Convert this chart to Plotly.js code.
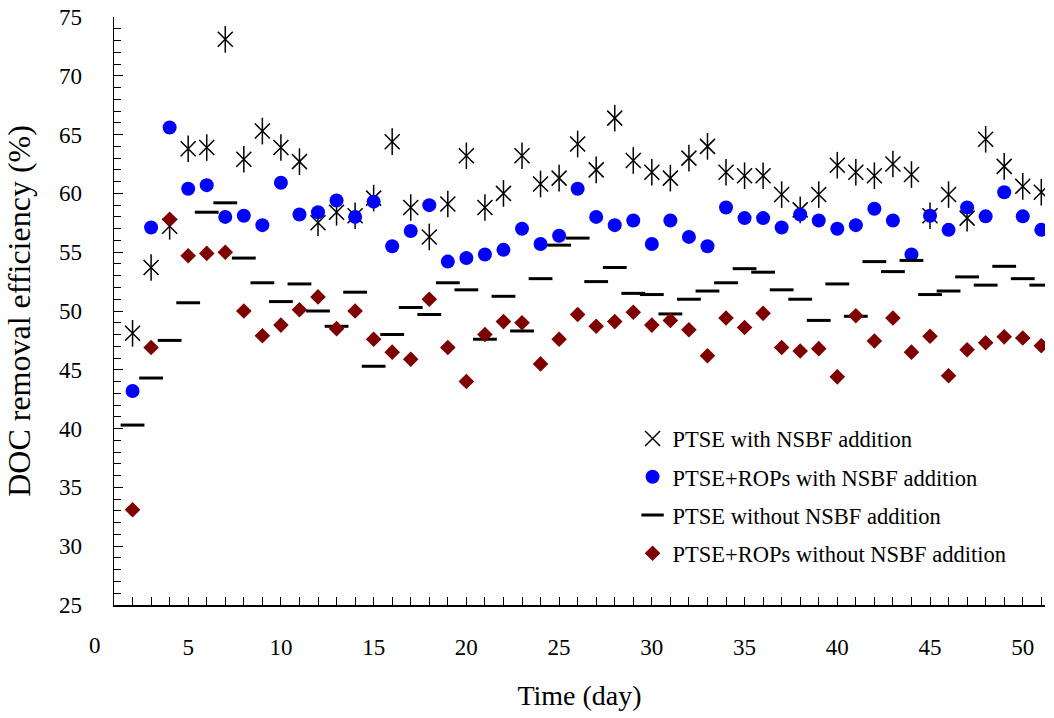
<!DOCTYPE html>
<html>
<head>
<meta charset="utf-8">
<script src="https://cdn.plot.ly/plotly-3.0.1.min.js"></script>
<style>
html, body { margin: 0; padding: 0; background: #fff; }
#chart { width: 1054px; height: 718px; }
</style>
</head>
<body>
<div id="chart"></div>
<script>
const days = [2,3,4,5,6,7,8,9,10,11,12,13,14,15,16,17,18,19,20,21,22,23,24,25,26,27,28,29,30,31,32,33,34,35,36,37,38,39,40,41,42,43,44,45,46,47,48,49,50,51];

const ptseWith = [48.1,53.7,57.2,63.8,63.9,73.1,62.9,65.3,63.9,62.7,
  57.5,58.4,58.1,59.6,64.4,58.8,56.3,59.1,63.2,58.8,
  60.0,63.2,60.8,61.3,64.2,62.0,66.4,62.8,61.8,61.3,
  63.0,64.0,61.8,61.5,61.5,59.9,58.6,59.9,62.4,61.8,
  61.5,62.5,61.6,58.1,59.9,57.9,64.6,62.3,60.6,60.1];

const ropsWith = [43.2,57.1,65.6,60.4,60.7,58.0,58.1,57.3,60.9,58.2,
  58.4,59.4,58.0,59.3,55.5,56.8,59.0,54.2,54.5,54.8,
  55.2,57.0,55.7,56.4,60.4,58.0,57.3,57.7,55.7,57.7,
  56.3,55.5,58.8,57.9,57.9,57.1,58.2,57.7,57.0,57.3,
  58.7,57.7,54.8,58.1,56.9,58.8,58.05,60.1,58.05,56.9];

const ptseWithout = [40.3,44.3,47.5,50.7,58.4,59.2,54.5,52.4,50.8,52.3,
  50.0,48.7,51.6,45.3,48.0,50.3,49.7,52.4,51.8,47.6,
  51.25,48.3,52.75,55.6,56.2,52.5,53.7,51.5,51.4,49.75,
  51.0,51.7,52.4,53.6,53.3,51.8,51.0,49.2,52.3,49.55,
  54.2,53.35,54.3,51.4,51.7,52.9,52.2,53.8,52.75,52.2];

const ropsWithout = [33.1,46.9,57.8,54.7,54.9,55.0,50.0,47.9,48.8,50.1,
  51.2,48.5,50.0,47.6,46.5,45.9,51.0,46.9,44.0,48.0,
  49.1,49.0,45.5,47.6,49.7,48.7,49.1,49.9,48.8,49.2,
  48.4,46.2,49.4,48.6,49.8,46.9,46.6,46.8,44.4,49.6,
  47.45,49.4,46.5,47.85,44.5,46.7,47.3,47.8,47.7,47.05];

const names = ['PTSE with NSBF addition','PTSE+ROPs with NSBF addition','PTSE without NSBF addition','PTSE+ROPs without NSBF addition'];

const FONT = 'Liberation Serif, Times New Roman, serif';

const traces = [
  {x: days, y: ptseWith, type: 'scatter', mode: 'markers', name: names[0], legendgroup: 'a',
   marker: {symbol: 'x-thin-open', size: 15, color: '#000', line: {color: '#000', width: 1.5}}},
  {x: days, y: ptseWith, type: 'scatter', mode: 'markers', name: names[0], legendgroup: 'a', showlegend: false,
   marker: {symbol: 'line-ns-open', size: 19, color: '#000', line: {color: '#000', width: 1.5}}},
  {x: days, y: ropsWith, type: 'scatter', mode: 'markers', name: names[1], legendgroup: 'b',
   marker: {symbol: 'circle', size: 14, color: '#0000FF'}},
  {x: days, y: ptseWithout, type: 'scatter', mode: 'markers', name: names[2], legendgroup: 'c',
   marker: {symbol: 'line-ew-open', size: 17, color: '#000', line: {color: '#000', width: 3}}},
  {x: days, y: ropsWithout, type: 'scatter', mode: 'markers', name: names[3], legendgroup: 'd',
   marker: {symbol: 'diamond', size: 12, color: '#7F0000'}}
];

const layout = {
  width: 1054, height: 718,
  paper_bgcolor: '#fff', plot_bgcolor: '#fff',
  margin: {l: 114, r: 9, t: 17, b: 113},
  font: {family: FONT, color: '#000', size: 22},
  showlegend: true,
  legend: {x: 0.557, y: 0.319, xanchor: 'left', yanchor: 'top', bgcolor: 'rgba(0,0,0,0)',
    font: {family: FONT, size: 22.5, color: '#000'}, traceorder: 'grouped', tracegroupgap: 6, itemwidth: 30},
  xaxis: {
    range: [1, 51.2], showgrid: false, zeroline: false,
    showline: true, linecolor: '#000', linewidth: 1.5,
    tick0: 0, dtick: 5, ticks: 'inside', ticklen: 8, tickwidth: 1, tickcolor: '#000',
    minor: {dtick: 1, ticks: 'inside', ticklen: 8, tickwidth: 1, tickcolor: '#000'},
    ticklabelstandoff: 21,
    tickfont: {family: FONT, size: 23},
    title: {text: 'Time (day)', font: {family: FONT, size: 28}, standoff: 26}
  },
  yaxis: {
    range: [25, 75], showgrid: false, zeroline: false,
    showline: true, linecolor: '#000', linewidth: 1.5,
    tick0: 25, dtick: 5, ticks: 'inside', ticklen: 9, tickwidth: 1, tickcolor: '#000',
    minor: {dtick: 1, ticks: 'inside', ticklen: 7, tickwidth: 1, tickcolor: '#000'},
    ticklabelstandoff: 26,
    tickfont: {family: FONT, size: 23},
    title: {text: 'DOC removal efficiency (%)', font: {family: FONT, size: 32}, standoff: 18}
  },
  annotations: [
    {xref: 'paper', yref: 'paper', x: -1 / 50.2, y: 0, yshift: -40, text: '0', showarrow: false,
     xanchor: 'center', yanchor: 'middle', font: {family: FONT, size: 23, color: '#000'}}
  ]
};

Plotly.newPlot('chart', traces, layout, {displayModeBar: false, staticPlot: true});
</script>
</body>
</html>
